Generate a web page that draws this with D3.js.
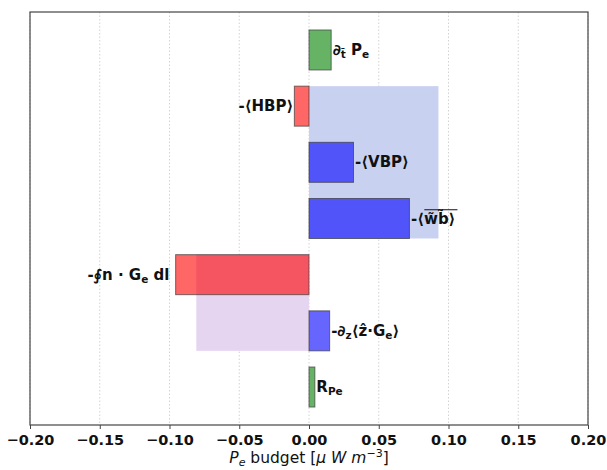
<!DOCTYPE html>
<html>
<head>
<meta charset="utf-8">
<script src="https://cdn.jsdelivr.net/npm/d3@7"></script>
<style>
  body { margin: 0; background: #fff; }
  text { font-family: "DejaVu Sans", sans-serif; }
</style>
</head>
<body>
<div id="chart"></div>
<script>
// Data
const terms = ['dtPe', 'HBP', 'VBP', 'wb', 'flux', 'dzG', 'RPe']
const values = [0.0159, -0.0105, 0.0319, 0.0720, -0.0956, 0.0148, 0.0042]
const groups = ['green', 'red', 'blue', 'blue', 'red', 'blue', 'green']
const shadeSpans = [['HBP', 'wb'], ['flux', 'dzG']]
const shadeValues = [0.0928, -0.0808]
const xTicks = [-0.20, -0.15, -0.10, -0.05, 0.00, 0.05, 0.10, 0.15, 0.20]

// label pieces: [text, 'n' | 'sub']
const labels = {
  dtPe: [['∂', 'n'], ['t\u0304', 'sub'], [' P', 'n'], ['e', 'sub']],
  HBP: [['-⟨HBP⟩', 'n']],
  VBP: [['-⟨VBP⟩', 'n']],
  wb: [['-⟨w\u0303b\u0303⟩', 'n']],
  flux: [['-∮n · G', 'n'], ['e', 'sub'], [' dl ', 'n']],
  dzG: [['-∂', 'n'], ['z', 'sub'], ['⟨ẑ·G', 'n'], ['e', 'sub'], ['⟩', 'n']],
  RPe: [['R', 'n'], ['Pe', 'sub']],
}

const colorScale = d3.scaleOrdinal()
  .domain(['green', 'red', 'blue'])
  .range(['rgba(0,128,0,0.6)', 'rgba(255,0,0,0.6)', 'rgba(0,0,255,0.6)'])
const shadeColors = ['rgb(201,209,241)', 'rgb(229,213,241)']

// Dimensions
const dims = { width: 607, height: 470, left: 30, right: 588, top: 12, bottom: 425 }

const svg = d3.select('#chart')
  .append('svg')
  .attr('width', dims.width)
  .attr('height', dims.height)

// Scales
const xScale = d3.scaleLinear()
  .domain([-0.2, 0.2])
  .range([dims.left, dims.right])

const yScale = d3.scaleBand()
  .domain(terms)
  .range([dims.top, dims.bottom])
  .paddingInner(0.288)
  .paddingOuter(0.32)

// Grid
svg.append('g')
  .selectAll('line')
  .data(xTicks)
  .join('line')
  .attr('x1', d => xScale(d))
  .attr('x2', d => xScale(d))
  .attr('y1', dims.top)
  .attr('y2', dims.bottom)
  .attr('stroke', '#c8c8c8')
  .attr('stroke-width', 0.8)
  .attr('stroke-dasharray', '1.5,2')

// Shaded spans
svg.append('g')
  .selectAll('rect')
  .data(shadeSpans)
  .join('rect')
  .attr('x', (d, i) => xScale(Math.min(0, shadeValues[i])))
  .attr('width', (d, i) => Math.abs(xScale(shadeValues[i]) - xScale(0)))
  .attr('y', d => yScale(d[0]))
  .attr('height', d => yScale(d[1]) + yScale.bandwidth() - yScale(d[0]))
  .attr('fill', (d, i) => shadeColors[i])

// Bars
svg.append('g')
  .selectAll('rect')
  .data(terms)
  .join('rect')
  .attr('x', (d, i) => xScale(Math.min(0, values[i])))
  .attr('width', (d, i) => Math.abs(xScale(values[i]) - xScale(0)))
  .attr('y', d => yScale(d))
  .attr('height', yScale.bandwidth())
  .attr('fill', (d, i) => colorScale(groups[i]))
  .attr('stroke', 'rgba(60,60,60,0.7)')
  .attr('stroke-width', 1)

// Bar labels
const labelG = svg.append('g')
terms.forEach((t, i) => {
  const v = values[i]
  const txt = labelG.append('text')
    .attr('x', v >= 0 ? xScale(v) + 1.5 : xScale(v) - 1)
    .attr('y', yScale(t) + yScale.bandwidth() / 2 + 5)
    .attr('text-anchor', v >= 0 ? 'start' : 'end')
    .style('white-space', 'pre')
    .attr('font-size', 15)
    .attr('font-weight', 'bold')
    .attr('fill', '#111')
  let shifted = false
  labels[t].forEach(([s, kind]) => {
    const ts = txt.append('tspan').text(s)
    if (kind === 'sub') {
      ts.attr('font-size', 10.5).attr('dy', shifted ? 0 : 3)
      shifted = true
    } else {
      ts.attr('dy', shifted ? -3 : 0)
      shifted = false
    }
  })
  if (t === 'wb') {
    const bb = txt.node().getBBox()
    labelG.append('line')
      .attr('x1', bb.x + bb.width * 0.3)
      .attr('x2', bb.x + bb.width + 2)
      .attr('y1', bb.y + 1)
      .attr('y2', bb.y + 1)
      .attr('stroke', '#111')
      .attr('stroke-width', 1.2)
  }
})

// Frame
svg.append('rect')
  .attr('x', dims.left)
  .attr('y', dims.top)
  .attr('width', dims.right - dims.left)
  .attr('height', dims.bottom - dims.top)
  .attr('fill', 'none')
  .attr('stroke', '#444')
  .attr('stroke-width', 1.2)

// Axis
const xAxis = d3.axisBottom(xScale)
  .tickValues(xTicks)
  .tickFormat(d3.format('.2f'))
  .tickSizeInner(4)
  .tickSizeOuter(0)

const axisG = svg.append('g')
  .attr('transform', `translate(0, ${dims.bottom})`)
  .call(xAxis)
axisG.select('.domain').remove()
axisG.selectAll('line').attr('stroke', '#444')
axisG.selectAll('text')
  .attr('font-size', 14.5)
  .attr('font-weight', 'bold')
  .attr('font-family', '"DejaVu Sans", sans-serif')
  .attr('fill', '#111')
  .attr('dy', '0.88em')

// Axis title
const xt = svg.append('text')
  .attr('x', xScale(0))
  .attr('y', 463)
  .attr('text-anchor', 'middle')
  .attr('font-size', 15.5)
  .attr('fill', '#111')
xt.append('tspan').attr('font-style', 'italic').text('P')
xt.append('tspan').attr('font-style', 'italic').attr('font-size', 11).attr('dy', 3).text('e')
xt.append('tspan').attr('dy', -3).text(' budget [')
xt.append('tspan').attr('font-style', 'italic').text('μ W m')
xt.append('tspan').attr('font-size', 11).attr('dy', -6).text('−3')
xt.append('tspan').attr('dy', 6).text(']')
</script>
</body>
</html>
